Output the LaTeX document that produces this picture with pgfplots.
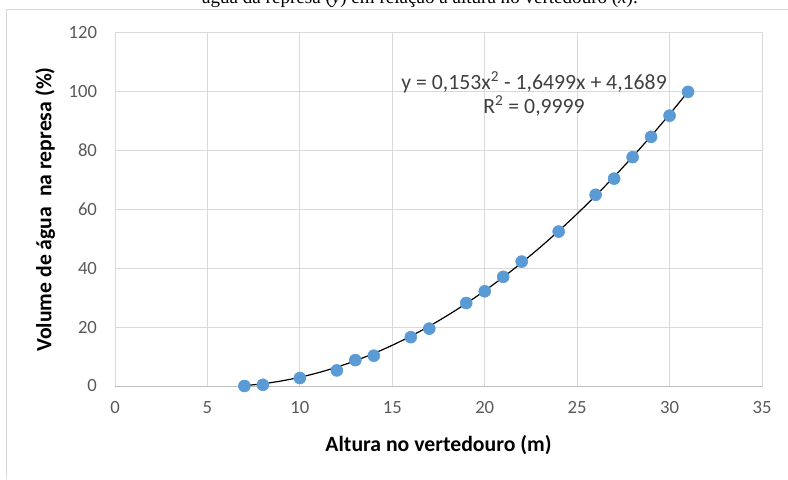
\documentclass[border=0pt]{standalone}
\usepackage{fontspec}
\setmainfont{Carlito}
\newfontfamily\tnr{Liberation Serif}
\usepackage{pgfplots}
\pgfplotsset{compat=1.18}
\definecolor{gridc}{HTML}{D9D9D9}
\definecolor{axisc}{HTML}{BFBFBF}
\definecolor{tickc}{HTML}{595959}
\definecolor{markc}{HTML}{5B9BD5}
\definecolor{eqc}{HTML}{404040}
\begin{document}
\begin{tikzpicture}
\useasboundingbox (0,0) rectangle (591pt,359.25pt);
\node[anchor=base, inner sep=0pt, font=\tnr\fontsize{14.3}{17}\selectfont] at (315pt,356.25pt) {água da represa (\textit{y}) em relação à altura no vertedouro (\textit{x}).};
\draw[gridc, line width=0.75pt] (4.5pt,0) -- (4.5pt,351.75pt) -- (591pt,351.75pt);
\begin{axis}[at={(86.25pt,69.75pt)}, anchor=south west, scale only axis,
  width=485.25pt, height=264.75pt,
  xmin=0, xmax=35, ymin=0, ymax=120,
  xtick={0,5,...,35}, ytick={0,20,...,120},
  grid=major, major grid style={gridc, line width=0.75pt},
  axis line style={gridc, line width=0.75pt},
  major tick length=0pt,
  tick label style={font=\fontsize{14}{16}\selectfont, text=tickc},
  /pgf/number format/assume math mode=true,
  yticklabel style={xshift=-10pt},
  xticklabel style={yshift=-8pt},
  xlabel={Altura no vertedouro (m)},
  ylabel={Volume de água\ \ na represa (\%)},
  label style={font=\bfseries\fontsize{16.3}{18}\selectfont, text=black},
  xlabel style={at={(axis description cs:0.5,-0.167)}, anchor=center},
  ylabel style={at={(axis description cs:-0.108,0.5)}, anchor=center},
  clip=false,
]
\draw[axisc, line width=0.75pt] (axis cs:0,0) -- (axis cs:35,0);
\addplot[only marks, mark=*, mark size=4.5pt, mark options={fill=markc, draw=markc}] coordinates {
(7,0) (8,0.4) (10,2.7) (12,5.3) (13,8.8) (14,10.3) (16,16.6) (17,19.5) (19,28.2) (20,32.2) (21,37.1) (22,42.3) (24,52.5) (26,65) (27,70.5) (28,77.8) (29,84.7) (30,91.9) (31,100)
};
\addplot[black, line width=0.9pt, smooth] coordinates {
(7,0.117) (8,0.762) (9,1.713) (10,2.970) (11,4.533) (12,6.402) (13,8.577) (14,11.058) (15,13.845) (16,16.938) (17,20.337) (18,24.043) (19,28.054) (20,32.371) (21,36.994) (22,41.923) (23,47.158) (24,52.699) (25,58.546) (26,64.699) (27,71.158) (28,77.923) (29,84.994) (30,92.371) (31,100.054)
};
\node[align=center, text=eqc, font=\fontsize{16.3}{18}\selectfont] at (axis cs:22.67,99.3) {y = 0,153x\textsuperscript{2} - 1,6499x + 4,1689\\R\textsuperscript{2} = 0,9999};
\end{axis}
\end{tikzpicture}
\end{document}
